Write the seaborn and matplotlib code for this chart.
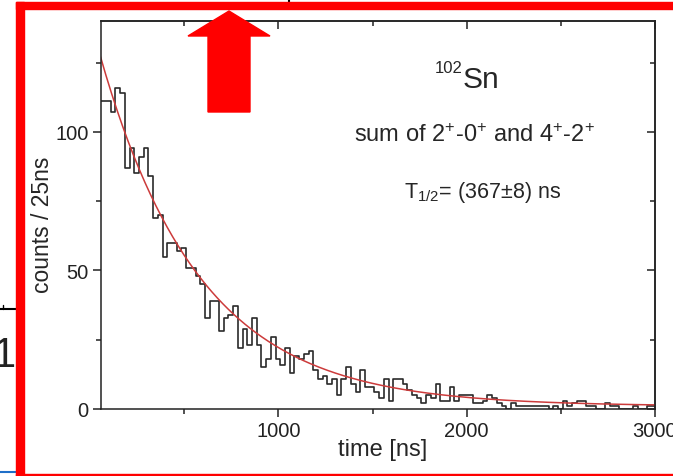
import numpy as np
import pandas as pd
import matplotlib
matplotlib.use("Agg")
import matplotlib.pyplot as plt
import seaborn as sns
from matplotlib.ticker import FixedLocator, MultipleLocator
from matplotlib.patches import Rectangle, Polygon
from matplotlib.lines import Line2D

# ---------------- data ----------------
counts = [111, 111, 107, 116, 114, 87, 94, 85, 91, 94,
          84, 69, 70, 55, 60, 60, 57, 58, 51, 51,
          48, 45, 33, 39, 39, 28, 33, 34, 37, 22,
          29, 23, 33, 23, 15, 18, 26, 18, 16, 22,
          13, 19, 18, 20, 21, 14, 11, 12, 9, 11,
          5, 11, 15, 9, 6, 14, 8, 8, 6, 4,
          11, 3, 11, 11, 9, 7, 5, 4, 2, 5,
          4, 9, 3, 3, 8, 3, 5, 5, 5, 2,
          2, 3, 5, 4, 2, 1, 0, 2, 1, 1,
          1, 1, 1, 1, 1, 0, 1, 0, 3, 1,
          2, 3, 3, 1, 1, 0, 0, 2, 1, 1,
          0, 0, 0, 1, 0, 0, 1, 1]
bin_start = 60          # ns
bin_width = 25          # ns
half_life = 367         # ns, from the annotation
fit_amplitude = 140
fit_background = 1
x_ticks = [1000, 2000, 3000]
y_ticks = [0, 50, 100]

n_bins = len(counts)
centers = bin_start + bin_width * (np.arange(n_bins) + 0.5)
df = pd.DataFrame({"time": centers, "counts": counts})

t_fit = np.linspace(55, 3000, 400)
fit = fit_amplitude * np.exp(-np.log(2) * t_fit / half_life) + fit_background
fit_df = pd.DataFrame({"time": t_fit, "fit": fit})

# ---------------- style ----------------
sns.set_style("ticks")
plt.rcParams["font.family"] = ["Liberation Sans", "DejaVu Sans"]
plt.rcParams["mathtext.fontset"] = "custom"
plt.rcParams["mathtext.rm"] = "Liberation Sans"
plt.rcParams["mathtext.it"] = "Liberation Sans:italic"
plt.rcParams["mathtext.bf"] = "Liberation Sans:bold"

W, H = 673, 477
fig = plt.figure(figsize=(W / 100, H / 100), dpi=100)
fig.patch.set_facecolor("white")


def fx(x):
    return x / W


def fy(y):
    return 1 - y / H


ax_l, ax_r, ax_t, ax_b = 101, 655, 22, 410
ax = fig.add_axes([fx(ax_l), fy(ax_b), (ax_r - ax_l) / W, (ax_b - ax_t) / H])
ax.set_facecolor("white")

sns.histplot(data=df, x="time", weights="counts", binwidth=bin_width,
             binrange=(bin_start, bin_start + bin_width * n_bins),
             element="step", fill=False, color="#2a2a2a", linewidth=1.2, ax=ax)
sns.lineplot(data=fit_df, x="time", y="fit", color="#cc3b3b", linewidth=1.1, ax=ax)

ax.set_xlim(58, 3000)
ax.set_ylim(0, 140)

ax.xaxis.set_major_locator(FixedLocator(x_ticks))
ax.xaxis.set_minor_locator(MultipleLocator(500))
ax.yaxis.set_major_locator(FixedLocator(y_ticks))
ax.yaxis.set_minor_locator(MultipleLocator(25))
ax.tick_params(which="major", direction="out", length=6, width=1.1,
               color="#222222", labelsize=14.5, labelcolor="#222222", pad=3)
ax.tick_params(which="minor", direction="out", length=3.5, width=1.1, color="#222222")
for s in ax.spines.values():
    s.set_linewidth(1.1)
    s.set_color("#222222")
    s.set_visible(True)

top = ax.secondary_xaxis("top")
top.xaxis.set_major_locator(FixedLocator(x_ticks))
top.xaxis.set_minor_locator(MultipleLocator(500))
top.tick_params(axis="x", which="major", direction="in", length=6, width=1.1,
                color="#222222", labeltop=False)
top.tick_params(axis="x", which="minor", direction="in", length=3.5, width=1.1,
                color="#222222")
top.spines["top"].set_linewidth(1.1)
top.spines["top"].set_color("#222222")

right = ax.secondary_yaxis("right")
right.yaxis.set_major_locator(FixedLocator(y_ticks))
right.yaxis.set_minor_locator(MultipleLocator(25))
right.tick_params(axis="y", which="major", direction="in", length=6, width=1.1,
                  color="#222222", labelright=False)
right.tick_params(axis="y", which="minor", direction="in", length=3.5, width=1.1,
                  color="#222222")
right.spines["right"].set_linewidth(1.1)
right.spines["right"].set_color("#222222")

ax.set_xlabel("time [ns]", fontsize=17, labelpad=0)
ax.xaxis.set_label_coords((383 - ax_l) / (ax_r - ax_l), -(439 - ax_b) / (ax_b - ax_t))
ax.set_ylabel("counts / 25ns", fontsize=16.5)
ax.yaxis.set_label_coords(-(ax_l - 54) / (ax_r - ax_l), (ax_b - 225) / (ax_b - ax_t))

# ---------------- annotations ----------------
fig.text(fx(463), fy(73), "102", fontsize=12, ha="right", va="baseline")
fig.text(fx(463), fy(88), "Sn", fontsize=21.5, ha="left", va="baseline")
fig.text(fx(474), fy(142), r"sum of 2$^{+}$-0$^{+}$ and 4$^{+}$-2$^{+}$",
         fontsize=17, ha="center", va="baseline")
fig.text(fx(483), fy(198), r"T$_{1/2}$= (367±8) ns",
         fontsize=15.5, ha="center", va="baseline")

# ---------------- slide decorations (red frame, arrow, fragments) ----------------
red = "#ff0000"
fig.patches.append(Rectangle((fx(16), fy(10)), 1 - fx(16), 7 / H,
                             transform=fig.transFigure, color=red, zorder=5))
fig.patches.append(Rectangle((fx(16), fy(477)), 8 / W, (477 - 3) / H,
                             transform=fig.transFigure, color=red, zorder=5))
fig.patches.append(Rectangle((fx(16), fy(476.5)), 1 - fx(16), 1.5 / H,
                             transform=fig.transFigure, color=red, zorder=5))
arrow_pts = [(229, 12), (270, 37), (250, 37), (250, 113), (208, 113), (208, 37), (188, 37)]
fig.patches.append(Polygon([(fx(x), fy(y)) for x, y in arrow_pts], closed=True,
                           transform=fig.transFigure, color=red, zorder=6))

fig.lines.append(Line2D([fx(0), fx(16)], [fy(310), fy(310)], transform=fig.transFigure,
                        color="black", linewidth=1.5))
fig.lines.append(Line2D([fx(3), fx(3)], [fy(310), fy(306)], transform=fig.transFigure,
                        color="black", linewidth=1.0))
fig.lines.append(Line2D([fx(0), fx(16)], [fy(473), fy(473)], transform=fig.transFigure,
                        color="#1f6fc8", linewidth=1.5))
fig.lines.append(Line2D([fx(289), fx(289)], [fy(0), fy(3)], transform=fig.transFigure,
                        color="black", linewidth=1.5))
fig.text(fx(-7), fy(367), "1", fontsize=30, ha="left", va="baseline", color="#222222")

fig.savefig("out.png", dpi=100)
